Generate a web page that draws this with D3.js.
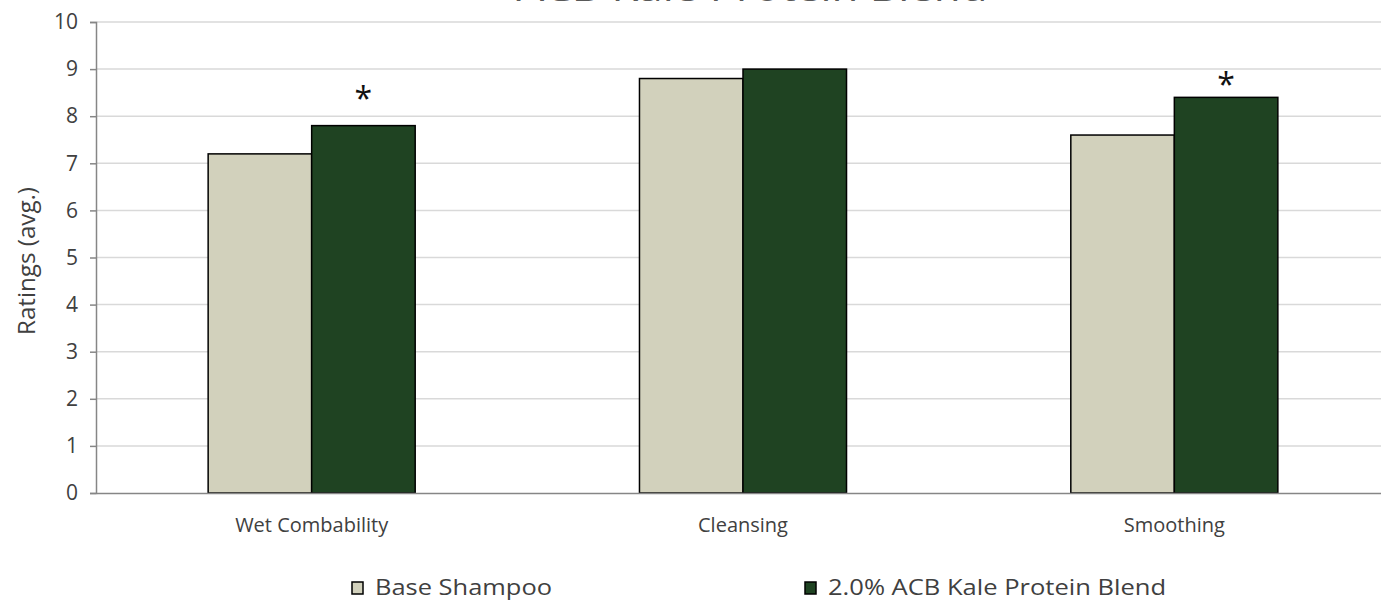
<!DOCTYPE html>
<html>
<head>
<meta charset="utf-8">
<script src="https://cdn.jsdelivr.net/npm/d3@7"></script>
<style>
  html, body { margin: 0; padding: 0; background: #fff; }
  svg { display: block; }
  text { font-family: "Open Sans", Lato, sans-serif; }
</style>
</head>
<body>
<svg id="chart" width="1381" height="602"></svg>
<script>
const categories = ["Wet Combability", "Cleansing", "Smoothing"];
const seriesNames = ["Base Shampoo", "2.0% ACB Kale Protein Blend"];
const baseShampoo = [7.2, 8.8, 7.6];
const kaleBlend = [7.8, 9.0, 8.4];
const yTicks = [0, 1, 2, 3, 4, 5, 6, 7, 8, 9, 10];
const sigCategories = ["Wet Combability", "Smoothing"];
const sigLevels = [8.45, 8.75];
const colors = ["#d2d1bc", "#1f4322"];
const titleText = "ACB Kale Protein Blend";

(function () {
const svg = d3.select("#chart");
const mLeft = 96, mRight = 1390, mTop = 22, mBottom = 493;
const FONT = "'Open Sans', Lato, sans-serif";

const x = d3.scaleBand().domain(categories).range([mLeft, mRight]).paddingInner(0.52).paddingOuter(0.26);
const xs = d3.scaleBand().domain(seriesNames).range([0, x.bandwidth()]);
const y = d3.scaleLinear().domain([0, 10]).range([mBottom, mTop]);

// title (cut off at the top, as in the reference)
svg.append("text").attr("x", 752).attr("y", 1).attr("text-anchor", "middle")
  .attr("font-size", 34).attr("fill", "#595959")
  .attr("textLength", 471).attr("lengthAdjust", "spacingAndGlyphs").text(titleText);

// gridlines
svg.append("g").selectAll("line").data(yTicks.filter(d => d > 0)).join("line")
  .attr("x1", mLeft).attr("x2", 1381).attr("y1", d => y(d)).attr("y2", d => y(d))
  .attr("stroke", "#d9d9d9").attr("stroke-width", 1.5);

// y axis
const yAxis = d3.axisLeft(y).tickValues(yTicks).tickSize(6).tickPadding(12).tickFormat(d3.format("d"));
const gy = svg.append("g").attr("transform", `translate(${mLeft},0)`).call(yAxis);
gy.select(".domain").attr("stroke", "#868686").attr("stroke-width", 1.5);
gy.selectAll(".tick line").attr("stroke", "#868686").attr("stroke-width", 1.5);
gy.selectAll(".tick text").attr("font-size", 21).attr("fill", "#404040").attr("font-family", FONT);

// bars
const data = categories.map((c, i) => ({ cat: c, vals: [baseShampoo[i], kaleBlend[i]] }));
const groups = svg.append("g").selectAll("g").data(data).join("g")
  .attr("transform", d => `translate(${x(d.cat)},0)`);
groups.selectAll("rect").data(d => d.vals.map((v, j) => ({ v, s: seriesNames[j], j })))
  .join("rect")
  .attr("x", d => xs(d.s)).attr("width", xs.bandwidth())
  .attr("y", d => y(d.v)).attr("height", d => y(0) - y(d.v))
  .attr("fill", d => colors[d.j]).attr("stroke", "#000").attr("stroke-width", 1.5);

// x axis
const xAxis = d3.axisBottom(x).tickSize(0).tickPadding(25);
const gx = svg.append("g").attr("transform", `translate(0,${mBottom})`).call(xAxis);
gx.select(".domain").attr("stroke", "#868686").attr("stroke-width", 1.5);
gx.selectAll(".tick text").attr("font-size", 20).attr("fill", "#404040").attr("font-family", FONT);

// significance asterisks, centred on their level
svg.append("g").selectAll("text").data(sigCategories.map((c, i) => ({ c, v: sigLevels[i] }))).join("text")
  .attr("x", d => x(d.c) + xs(seriesNames[1]) + xs.bandwidth() / 2)
  .attr("y", d => y(d.v) + 0.47 * 32)
  .attr("text-anchor", "middle").attr("font-size", 32).attr("fill", "#111").text("*");

// y axis title
svg.append("text").attr("transform", `translate(35,261) rotate(-90)`)
  .attr("text-anchor", "middle").attr("font-size", 24).attr("fill", "#404040")
  .attr("textLength", 148).attr("lengthAdjust", "spacingAndGlyphs").text("Ratings (avg.)");

// legend
const legendX = [352, 805];
const legendW = [177, 338];
const lg = svg.append("g").selectAll("g").data(seriesNames).join("g")
  .attr("transform", (d, i) => `translate(${legendX[i]},582)`);
lg.append("rect").attr("width", 11).attr("height", 12)
  .attr("fill", (d, i) => colors[i]).attr("stroke", "#000").attr("stroke-width", 1.5);
lg.append("text").attr("x", 23).attr("y", 13).attr("font-size", 22).attr("fill", "#404040")
  .attr("textLength", (d, i) => legendW[i]).attr("lengthAdjust", "spacingAndGlyphs").text(d => d);
})();
</script>
</body>
</html>
